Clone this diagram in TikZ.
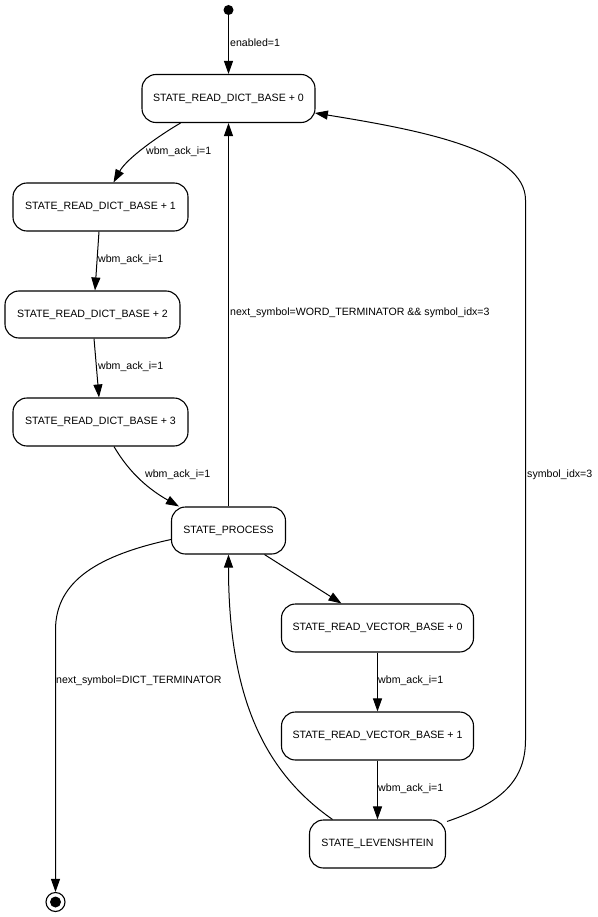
\documentclass[tikz,border=0pt]{standalone}
\usepackage{fontspec}
\setmainfont{Liberation Sans}
\usetikzlibrary{arrows.meta,calc}
\begin{document}
\begin{tikzpicture}[x=1pt,y=-1pt,
  every node/.style={font=\fontsize{10.6}{12}\selectfont},
  state/.style={draw, line width=1.1pt, rounded corners=14pt, minimum height=48pt, inner sep=0pt, fill=white},
  arr/.style={line width=1pt, -{Triangle[length=13pt,width=9pt]}},
  lab/.style={anchor=west, inner sep=1pt}]
\fill[white] (0,0) rectangle (597,917);
\useasboundingbox (0,0) rectangle (597,917);

\node[circle, fill=black, minimum size=10pt, inner sep=0pt] (init) at (228.5,10) {};
\node[state, minimum width=173pt] (n0) at (228.5,98.5) {STATE\_READ\_DICT\_BASE + 0};
\node[state, minimum width=175pt] (n1) at (100.5,207) {STATE\_READ\_DICT\_BASE + 1};
\node[state, minimum width=175pt, minimum height=47pt] (n2) at (92.5,314.5) {STATE\_READ\_DICT\_BASE + 2};
\node[state, minimum width=175pt] (n3) at (100.5,422) {STATE\_READ\_DICT\_BASE + 3};
\node[state, minimum width=114pt, minimum height=47pt] (np) at (228.5,530.5) {STATE\_PROCESS};
\node[state, minimum width=192pt] (v0) at (377.5,628) {STATE\_READ\_VECTOR\_BASE + 0};
\node[state, minimum width=192pt] (v1) at (377.5,736) {STATE\_READ\_VECTOR\_BASE + 1};
\node[state, minimum width=136pt] (lev) at (377.5,844) {STATE\_LEVENSHTEIN};
\node[circle, draw, line width=1.1pt, minimum size=19pt, inner sep=0pt] (final) at (55.5,902) {};
\fill (final.center) circle (5.5pt);

% init -> n0
\draw[arr] (init) -- (n0.north);
\node[lab] (l0) at (229,43) {enabled=1};

% n0 -> n1
\draw[arr] ($(n0.south)+(-48,0)$) .. controls (160,135) and (127,158) .. ($(n1.north)+(13,0)$);
\node[lab] (l1) at (145,152) {wbm\_ack\_i=1};

% n1 -> n2
\draw[arr] ($(n1.south)+(-1.5,0)$) -- ($(n2.north)+(2.5,0)$);
\node[lab] (l2) at (97,260) {wbm\_ack\_i=1};

% n2 -> n3
\draw[arr] ($(n2.south)+(1.5,0)$) -- ($(n3.north)+(-1.5,0)$);
\node[lab] (l3) at (97,367) {wbm\_ack\_i=1};

% n3 -> np
\draw[arr] ($(n3.south)+(13.5,0)$) .. controls (130,474) and (150,490) .. ($(np.north west)+(8,0)$);
\node[lab] (l4) at (144,475) {wbm\_ack\_i=1};

% np -> n0
\draw[arr] (np.north) -- (np.north |- n0.south);
\node[lab] (l5) at (229,313) {next\_symbol=WORD\_TERMINATOR \&\& symbol\_idx=3};

% np -> v0
\draw[arr] ($(np.south)+(36,0)$) -- ($(v0.north)+(-36,0)$);

% v0 -> v1
\draw[arr] (v0.south) -- (v1.north);
\node[lab] (l6) at (377,681) {wbm\_ack\_i=1};

% v1 -> lev
\draw[arr] (v1.south) -- (lev.north);
\node[lab] (l7) at (377,789) {wbm\_ack\_i=1};

% lev -> np
\draw[arr] ($(lev.north)+(-45,0)$) .. controls (266,773) and (228.5,700) .. (np.south);

% lev -> n0
\draw[arr] ($(lev.north east)+(1,2)$) .. controls (495,805) and (525.5,785) .. (525.5,740)
  -- (525.5,200) .. controls (525.5,150) and (420,130) .. ($(n0.east)+(-0.7,14.5)$);
\node[lab] (l8) at (526,475) {symbol\_idx=3};

% np -> final
\draw[arr] ($(np.west)+(0,9)$) .. controls (100,555) and (55.5,580) .. (55.5,630) -- (final.north);
\node[lab] (l9) at (55,681) {next\_symbol=DICT\_TERMINATOR};
\end{tikzpicture}
\end{document}
